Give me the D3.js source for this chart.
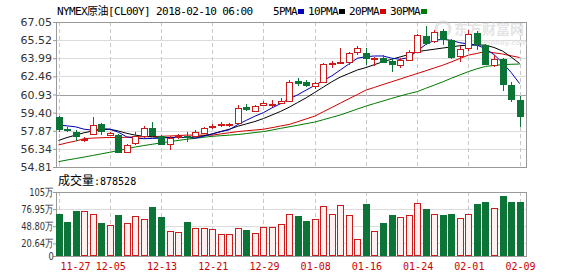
<!DOCTYPE html>
<html>
<head>
<meta charset="utf-8">
<script src="https://cdn.jsdelivr.net/npm/d3@7/dist/d3.min.js"></script>
<style>
  body { margin: 0; background: #fff; }
  svg { display: block; }
</style>
</head>
<body>
<svg width="578" height="276"></svg>
<script>
// NYMEX crude oil, daily candles 2017-11-27 .. 2018-02-09
let dates = [
  '11-27','11-28','11-29','11-30','12-01','12-04','12-05','12-06','12-07','12-08',
  '12-11','12-12','12-13','12-14','12-15','12-18','12-19','12-20','12-21','12-22',
  '12-25','12-26','12-27','12-28','12-29','01-01','01-02','01-03','01-04','01-05',
  '01-08','01-09','01-10','01-11','01-12','01-15','01-16','01-17','01-18','01-19',
  '01-22','01-23','01-24','01-25','01-26','01-29','01-30','01-31','02-01','02-02',
  '02-05','02-06','02-07','02-08','02-09'
]
let open = [
  59.05, 58.0, 57.8, 57.1, 57.6, 58.4, 57.55, 57.5, 56.1, 56.9,
  57.45, 58.1, 57.45, 56.8, 57.35, 57.4, 57.5, 57.7, 58.15, 58.35,
  58.3, 58.5, 59.9, 59.55, 60.05, 60.0, 60.2, 60.4, 62.05, 62.0,
  61.65, 62.0, 63.45, 63.55, 63.6, 64.5, 64.4, 63.95, 64.0, 63.8,
  63.4, 63.85, 64.5, 65.85, 65.4, 66.25, 65.5, 64.2, 64.85, 66.1,
  65.1, 63.4, 63.9, 61.7, 60.45
]
let high = [
  59.1, 58.15, 57.95, 57.35, 59.0, 58.5, 57.8, 57.6, 56.75, 57.8,
  58.3, 58.65, 57.55, 57.45, 57.6, 57.8, 57.9, 58.2, 58.45, 58.6,
  58.55, 60.05, 60.1, 60.05, 60.4, 60.45, 60.6, 62.15, 62.3, 62.15,
  62.0, 63.6, 63.75, 64.85, 64.55, 65.0, 64.85, 64.1, 64.3, 63.9,
  64.0, 64.7, 66.0, 66.7, 66.35, 66.45, 65.6, 65.0, 66.4, 66.3,
  65.2, 64.3, 64.0, 62.0, 60.8
]
let low = [
  57.75, 57.75, 57.0, 56.95, 57.5, 57.55, 57.4, 55.95, 56.0, 56.65,
  57.3, 57.45, 56.7, 56.25, 57.2, 56.95, 57.4, 57.6, 58.0, 58.2,
  58.2, 58.45, 59.5, 59.5, 59.95, 59.85, 60.1, 60.3, 61.65, 61.6,
  61.4, 61.9, 63.15, 63.5, 63.4, 64.3, 63.4, 63.35, 63.55, 62.8,
  63.15, 63.75, 64.4, 65.1, 65.3, 65.1, 63.95, 63.7, 64.6, 64.7,
  63.45, 63.25, 61.25, 60.3, 58.15
]
let close = [
  58.0, 57.9, 57.45, 57.2, 58.35, 57.8, 57.7, 56.1, 56.7, 57.45,
  58.1, 57.5, 56.8, 57.3, 57.45, 57.3, 57.8, 58.1, 58.25, 58.45,
  58.4, 59.8, 59.7, 59.95, 60.2, 60.1, 60.35, 62.0, 61.9, 61.75,
  61.9, 63.5, 63.55, 63.65, 64.4, 64.85, 64.0, 64.05, 63.7, 63.55,
  63.85, 64.5, 65.95, 65.3, 66.2, 65.6, 64.05, 64.75, 66.05, 65.2,
  63.5, 63.9, 61.75, 60.55, 59.1
]
// volume in 万 (10k contracts)
let volume = [
  69.5, 56.3, 73.8, 73.8, 68.9, 54.7, 50.9, 67.3, 54.7, 65.6,
  60.7, 80.9, 64.5, 41.0, 39.4, 56.3, 45.9, 45.9, 44.3, 36.1,
  36.1, 45.9, 42.7, 37.7, 47.6, 47.6, 52.5, 68.9, 65.6, 57.4,
  60.7, 82.0, 68.9, 83.7, 67.3, 27.9, 85.9, 41.0, 54.1, 67.8,
  64.0, 67.3, 87.0, 77.1, 68.9, 67.3, 68.9, 62.3, 68.9, 85.9,
  88.6, 78.8, 98.4, 88.6, 87.85
]
let ma5 = [
  58.36, 58.28, 58.2, 58.0, 57.92, 58.05, 58.0, 57.75, 57.35, 57.25,
  57.2, 57.22, 57.25, 57.3, 57.32, 57.3, 57.25, 57.4, 57.6, 57.8,
  57.95, 58.4, 58.75, 59.1, 59.4, 59.8, 60.15, 60.55, 60.9, 61.3,
  61.7, 62.1, 62.5, 63.0, 63.5, 63.99, 64.12, 64.18, 64.18, 64.0,
  63.9, 64.05, 64.6, 65.15, 65.5, 65.6, 65.5, 65.3, 65.2, 65.1,
  64.8, 64.3, 63.6, 62.8, 61.85
]
let ma10 = [
  57.05, 57.3, 57.5, 57.7, 57.85, 57.95, 58.0, 57.85, 57.65, 57.5,
  57.4, 57.35, 57.3, 57.3, 57.3, 57.3, 57.35, 57.45, 57.6, 57.8,
  58.0, 58.25, 58.45, 58.65, 58.9, 59.2, 59.5, 59.85, 60.25, 60.65,
  61.1, 61.55, 62.0, 62.4, 62.7, 63.0, 63.2, 63.45, 63.7, 63.9,
  64.1, 64.3, 64.55, 64.65, 64.75, 64.85, 64.95, 65.05, 65.1, 65.1,
  65.1, 64.9, 64.6, 64.1, 63.55
]
let ma20 = [
  56.67, 56.85, 57.0, 57.2, 57.25, 57.28, 57.3, 57.3, 57.32, 57.35,
  57.36, 57.38, 57.4, 57.43, 57.46, 57.5, 57.5, 57.5, 57.5, 57.6,
  57.7, 57.8, 57.87, 57.93, 58.0, 58.13, 58.27, 58.4, 58.63, 58.87,
  59.1, 59.47, 59.83, 60.2, 60.57, 60.93, 61.3, 61.53, 61.77, 62.0,
  62.23, 62.47, 62.7, 62.93, 63.17, 63.4, 63.68, 63.97, 64.25, 64.4,
  64.55, 64.45, 64.35, 64.2, 64.05
]
let ma30 = [
  55.26, 55.4, 55.52, 55.65, 55.78, 55.92, 56.05, 56.2, 56.35, 56.5,
  56.62, 56.73, 56.85, 56.95, 57.05, 57.15, 57.23, 57.32, 57.4, 57.45,
  57.5, 57.55, 57.63, 57.72, 57.8, 57.93, 58.07, 58.2, 58.33, 58.47,
  58.6, 58.8, 59.0, 59.2, 59.45, 59.7, 59.95, 60.17, 60.38, 60.6,
  60.8, 61.0, 61.17, 61.45, 61.72, 62.0, 62.3, 62.58, 62.86, 63.1,
  63.3, 63.38, 63.45, 63.48, 63.5
]
let priceTicks = [54.81, 56.34, 57.87, 59.40, 60.93, 62.46, 63.99, 65.52, 67.05]
let volTicks = [0, 20.64, 48.80, 76.95, 105]
let volTickLabels = ['0', '20.64万', '48.80万', '76.95万', '105万']
let dateTicks = ['11-27','12-05','12-13','12-21','12-29','01-08','01-16','01-24','02-01','02-09']
let maNames = ['5PMA', '10PMA', '20PMA', '30PMA']
let maColors = ['#0000b4', '#000000', '#d20000', '#007a00']

let upColor = '#cc1a1a'
let downColor = '#0b7436'
let left = 56
let right = 526

let svg = d3.select('svg')

let x = d3.scalePoint()
  .domain(dates)
  .range([58.5, 519.6])
let y = d3.scaleLinear()
  .domain([54.81, 67.05])
  .range([167, 22])
let yVol = d3.scaleLinear()
  .domain([0, 105])
  .range([256, 192])

let px = v => Math.round(v) + 0.5

/* grids */
let grid = svg.append('g').attr('shape-rendering', 'crispEdges')
grid.selectAll('.hp')
  .data(priceTicks.slice(1, -1))
  .enter()
  .append('line')
  .attr('x1', left).attr('x2', right)
  .attr('y1', d => px(y(d))).attr('y2', d => px(y(d)))
  .attr('stroke', d => d === 60.93 ? '#a0a0a0' : '#dcdcdc')
grid.selectAll('.hv')
  .data(volTicks.slice(1, -1))
  .enter()
  .append('line')
  .attr('x1', left).attr('x2', right)
  .attr('y1', d => px(yVol(d))).attr('y2', d => px(yVol(d)))
  .attr('stroke', '#dcdcdc')
dateTicks.forEach(d => {
  ;[[22, 167], [192, 256]].forEach(r => {
    grid.append('line')
      .attr('x1', px(x(d))).attr('x2', px(x(d)))
      .attr('y1', r[0]).attr('y2', r[1])
      .attr('stroke', '#c8c8c8')
      .attr('stroke-dasharray', '4,3')
  })
})
grid.append('rect')
  .attr('x', px(left)).attr('y', px(y(67.05)))
  .attr('width', right - left).attr('height', Math.round(y(54.81) - y(67.05)))
  .attr('fill', 'none').attr('stroke', '#999')
grid.append('rect')
  .attr('x', px(left)).attr('y', px(yVol(105)))
  .attr('width', right - left).attr('height', Math.round(yVol(0) - yVol(105)))
  .attr('fill', 'none').attr('stroke', '#999')

/* watermark */
let wm = svg.append('g').attr('opacity', 0.55)
wm.append('circle')
  .attr('cx', 443).attr('cy', 29).attr('r', 7)
  .attr('fill', 'none').attr('stroke', '#cfcfcf').attr('stroke-width', 3)
wm.append('text')
  .attr('x', 454).attr('y', 34)
  .attr('font-family', 'Noto Sans CJK SC').attr('font-size', 14).attr('font-weight', 'bold')
  .attr('fill', '#cfcfcf')
  .text('东方财富网')
wm.append('text')
  .attr('x', 466).attr('y', 45)
  .attr('font-family', 'DejaVu Sans').attr('font-size', 7).attr('font-weight', 'bold')
  .attr('fill', '#d6d6d6')
  .text('eastmoney.com')

/* axes */
let yAxis = svg.append('g')
  .attr('transform', `translate(${left},0)`)
  .call(d3.axisLeft(y).tickValues(priceTicks).tickSize(3).tickPadding(1).tickFormat(d => d.toFixed(2)))
yAxis.select('.domain').remove()
yAxis.selectAll('line').attr('stroke', '#999')
yAxis.selectAll('text')
  .attr('font-family', 'DejaVu Sans').attr('font-size', 11).attr('fill', '#333')

let vAxis = svg.append('g')
  .attr('transform', `translate(${left},0)`)
  .call(d3.axisLeft(yVol).tickValues(volTicks).tickSize(3).tickPadding(0).tickFormat((d, i) => volTickLabels[i]))
vAxis.select('.domain').remove()
vAxis.selectAll('line').attr('stroke', '#999')
vAxis.selectAll('text')
  .attr('font-family', 'DejaVu Sans').attr('font-size', 11).attr('fill', '#333')
  .attr('transform', 'scale(0.76,1)')

svg.append('g').selectAll('text')
  .data(dateTicks)
  .enter()
  .append('text')
  .attr('x', (d, i) => i === 0 ? x(d) + 2 : x(d) + 1)
  .attr('y', 270)
  .attr('text-anchor', (d, i) => i === 0 ? 'start' : 'middle')
  .attr('font-family', 'DejaVu Sans Mono').attr('font-size', 10)
  .attr('fill', '#cc0000')
  .text(d => d)

/* volume bars */
let bw = 6
svg.append('g').attr('shape-rendering', 'crispEdges')
  .selectAll('rect')
  .data(volume)
  .enter()
  .append('rect')
  .attr('x', (d, i) => Math.round(x(dates[i]) - bw / 2) + 0.5)
  .attr('y', d => px(yVol(d)))
  .attr('width', bw)
  .attr('height', d => Math.round(yVol(0) - yVol(d)) - 1)
  .attr('fill', (d, i) => close[i] >= open[i] ? '#fff0f0' : downColor)
  .attr('stroke', (d, i) => close[i] >= open[i] ? upColor : downColor)

/* moving averages */
let maData = [ma5, ma10, ma20, ma30]
let line = d3.line()
  .x((d, i) => x(dates[i]))
  .y(d => y(d))
svg.append('g').selectAll('path')
  .data(maData.slice().reverse())
  .enter()
  .append('path')
  .attr('d', d => line(d))
  .attr('fill', 'none')
  .attr('stroke', (d, i) => maColors[3 - i])
  .attr('stroke-width', 1)

/* candles */
let candles = svg.append('g').attr('shape-rendering', 'crispEdges')
  .selectAll('g')
  .data(dates)
  .enter()
  .append('g')
candles.append('line')
  .attr('x1', d => px(x(d))).attr('x2', d => px(x(d)))
  .attr('y1', (d, i) => Math.round(y(high[i])))
  .attr('y2', (d, i) => Math.round(y(low[i])))
  .attr('stroke', (d, i) => close[i] >= open[i] ? upColor : downColor)
candles.append('rect')
  .attr('x', d => Math.round(x(d) - 3) + 0.5)
  .attr('y', (d, i) => px(y(Math.max(open[i], close[i]))))
  .attr('width', 6)
  .attr('height', (d, i) => Math.max(0, Math.round(y(Math.min(open[i], close[i])) - y(Math.max(open[i], close[i])))))
  .attr('fill', (d, i) => close[i] >= open[i] ? '#fff' : downColor)
  .attr('stroke', (d, i) => close[i] >= open[i] ? upColor : downColor)

/* header */
svg.append('text')
  .attr('x', 57).attr('y', 15)
  .attr('font-family', 'DejaVu Sans Mono, Noto Sans CJK SC').attr('font-size', 11)
  .attr('letter-spacing', -0.6)
  .attr('fill', '#000')
  .text('NYMEX原油[CL00Y] 2018-02-10 06:00')

let lx = 273
maNames.forEach((n, i) => {
  svg.append('text')
    .attr('x', lx).attr('y', 15)
    .attr('font-family', 'DejaVu Sans Mono').attr('font-size', 11)
    .attr('letter-spacing', -0.6)
    .attr('fill', '#000')
    .text(n)
  lx += n.length * 6 + 1
  svg.append('rect')
    .attr('x', lx).attr('y', 9).attr('width', 6).attr('height', 5)
    .attr('fill', maColors[i])
  lx += 10
})

svg.append('text')
  .attr('x', 58).attr('y', 185)
  .attr('font-size', 12)
  .attr('fill', '#000')
  .call(t => {
    t.append('tspan').attr('font-family', 'Noto Sans CJK SC').text('成交量')
    t.append('tspan').attr('font-family', 'DejaVu Sans Mono').attr('font-size', 10).text(':' + 878528)
  })
</script>
</body>
</html>
